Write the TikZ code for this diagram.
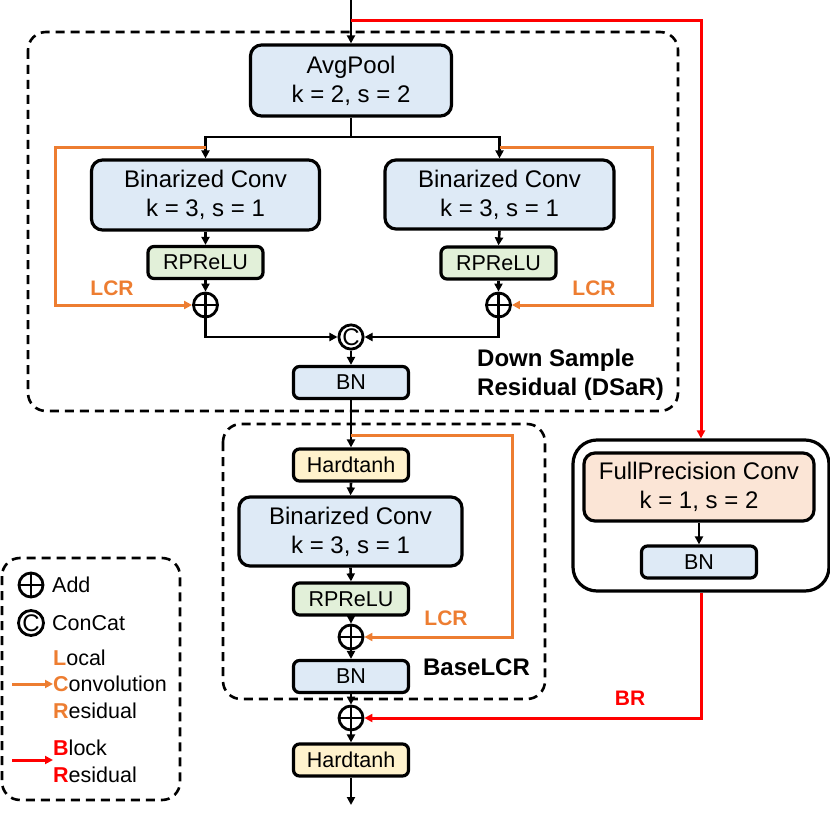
\documentclass[tikz,border=0pt]{standalone}
\usepackage{fontspec}
\setmainfont{Liberation Sans}
\usetikzlibrary{arrows.meta,calc}
\definecolor{cblue}{HTML}{DEEAF6}
\definecolor{cgreen}{HTML}{E2F0D9}
\definecolor{cyellow}{HTML}{FFF2CC}
\definecolor{cpeach}{HTML}{FBE5D6}
\definecolor{corange}{HTML}{ED7D31}
\definecolor{cred}{HTML}{FF0000}
\begin{document}
\begin{tikzpicture}[x=1pt,y=-1pt,
  bigbox/.style={draw, line width=3.2pt, rounded corners=11pt, align=center, inner sep=0pt, fill=cblue, font=\fontsize{24}{29}\selectfont},
  smallbox/.style={draw, line width=3.2pt, rounded corners=6pt, minimum width=115pt, minimum height=32pt, inner sep=0pt, font=\fontsize{21.5}{26}\selectfont},
  arr/.style={line width=2.6pt, -{Triangle[length=8pt,width=8pt]}},
  orarr/.style={line width=3pt, draw=corange, -{Triangle[length=8pt,width=8pt]}, color=corange},
  redarr/.style={line width=3pt, draw=cred, -{Triangle[length=8pt,width=8pt]}, color=cred},
  dashbox/.style={draw, line width=2.6pt, dash pattern=on 9pt off 6pt, rounded corners=18pt},
  addop/.style={circle, draw, line width=2.8pt, minimum size=24pt, inner sep=0pt,
    path picture={\draw[line width=2.8pt] (path picture bounding box.north) -- (path picture bounding box.south) (path picture bounding box.east) -- (path picture bounding box.west);}},
  catop/.style={circle, draw, line width=2.8pt, minimum size=24pt, inner sep=0pt, font=\fontsize{24}{24}\selectfont},
  lbl/.style={font=\fontsize{21}{25}\selectfont\bfseries, inner sep=0pt},
  legtext/.style={font=\fontsize{21.5}{26}\selectfont, inner sep=0pt, anchor=west}
]
\useasboundingbox (0,0) rectangle (830,813);

% dashed group boxes
\draw[dashbox] (28,32) rectangle (678,411);
\draw[dashbox] (223,424) rectangle (545,699);
\draw[dashbox] (2,558) rectangle (180,800);

% DSaR
\coordinate (top) at (351,0);
\coordinate (brs) at (351,20.5);
\node[bigbox, minimum width=201pt, minimum height=71pt] (avg) at (351,80.5) {AvgPool\\k = 2, s = 2};
\coordinate (split) at (351,137);
\node[bigbox, minimum width=228pt, minimum height=70pt] (bcL) at (205.5,195) {Binarized Conv\\k = 3, s = 1};
\node[bigbox, minimum width=229pt, minimum height=69pt] (bcR) at (499.5,194.5) {Binarized Conv\\k = 3, s = 1};
\node[smallbox, fill=cgreen] (rpL) at (205.5,262.5) {RPReLU};
\node[smallbox, fill=cgreen] (rpR) at (498.5,263) {RPReLU};
\node[addop] (addL) at (205.5,305) {};
\node[addop] (addR) at (498.5,305) {};
\node[catop] (cat) at (351,337) {C};
\node[smallbox, fill=cblue] (bn1) at (351,382.5) {BN};
\node[lbl, align=left, anchor=west, font=\fontsize{24}{29}\selectfont\bfseries] (dsar) at (477,374.5) {Down Sample\\Residual (DSaR)};
\node[lbl, text=corange] (lcrL) at (112,288) {LCR};
\node[lbl, text=corange] (lcrR) at (594,288) {LCR};

\coordinate (oL) at (205.5,148);
\coordinate (oR) at (499.5,148);

\draw[line width=2.6pt] (top) -- (brs);
\draw[arr] (brs) -- (avg.north);
\draw[line width=2.6pt] (avg.south) -- (split);
\draw[arr] (split) -| (bcL.north);
\draw[arr] (split) -| (bcR.north);
\draw[arr] (bcL.south) -- (rpL.north);
\draw[arr] (bcR.south) -- (rpR.north);
\draw[arr] (rpL.south) -- (addL.north);
\draw[arr] (rpR.south) -- (addR.north);
\draw[orarr] (oL) -- ++(-150.5,0) |- (addL.west);
\draw[orarr] (oR) -- ++(152.5,0) |- (addR.east);
\draw[arr] (addL.south) |- (cat.west);
\draw[arr] (addR.south) |- (cat.east);
\draw[arr] (cat.south) -- (bn1.north);

% BaseLCR
\node[smallbox, fill=cyellow] (ht1) at (351,465) {Hardtanh};
\node[bigbox, minimum width=223pt, minimum height=69pt] (bc3) at (350.5,531.5) {Binarized Conv\\k = 3, s = 1};
\node[smallbox, fill=cgreen] (rp3) at (351,599) {RPReLU};
\node[addop] (add3) at (351,637) {};
\node[smallbox, fill=cblue] (bn3) at (351,676.5) {BN};
\node[lbl, text=corange] (lcr3) at (446,618) {LCR};
\node[lbl, font=\fontsize{24}{29}\selectfont\bfseries] (base) at (476.5,667) {BaseLCR};
\coordinate (o3) at (351,435);
\draw[arr] (bn1.south) -- (ht1.north);
\draw[orarr] (o3) -- ++(161,0) |- (add3.east);
\draw[arr] (ht1.south) -- (bc3.north);
\draw[arr] (bc3.south) -- (rp3.north);
\draw[arr] (rp3.south) -- (add3.north);
\draw[arr] (add3.south) -- (bn3.north);

\node[addop] (add4) at (351,718) {};
\node[smallbox, fill=cyellow] (ht2) at (351,760) {Hardtanh};
\coordinate (out) at (351,805);
\draw[arr] (bn3.south) -- (add4.north);
\draw[arr] (add4.south) -- (ht2.north);
\draw[arr] (ht2.south) -- (out);

% Full precision branch
\node[draw, line width=3.2pt, rounded corners=24pt, minimum width=256pt, minimum height=151pt, inner sep=0pt] (fpo) at (701,515.5) {};
\node[bigbox, fill=cpeach, minimum width=230pt, minimum height=68pt] (fpc) at (699,487) {FullPrecision Conv\\k = 1, s = 2};
\node[smallbox, fill=cblue] (fpbn) at (699,562) {BN};
\draw[arr] (fpc.south) -- (fpbn.north);
\draw[redarr] (brs) -| (fpo.north);
\draw[redarr] (fpo.south) |- (add4.east);
\node[lbl, text=cred] (br) at (630,698) {BR};

% Legend
\node[addop] (legadd) at (31,585) {};
\node[legtext] (legaddt) at (52,585) {Add};
\node[catop, minimum size=25pt] (legcat) at (31,623) {C};
\node[legtext] (legcatt) at (52,623) {ConCat};
\node[legtext] (l1) at (53,658) {\textcolor{corange}{\bfseries L}ocal};
\node[legtext] (l2) at (53,684) {\textcolor{corange}{\bfseries C}onvolution};
\node[legtext] (l3) at (53,711) {\textcolor{corange}{\bfseries R}esidual};
\node[legtext] (b1) at (53,748) {\textcolor{cred}{\bfseries B}lock};
\node[legtext] (b2) at (53,775) {\textcolor{cred}{\bfseries R}esidual};
\coordinate (lo) at (12,684);
\coordinate (lr) at (12,760);
\draw[orarr] (lo) -- (l2.west);
\draw[redarr] (lr) -- (b1.west |- lr);
\end{tikzpicture}
\end{document}
